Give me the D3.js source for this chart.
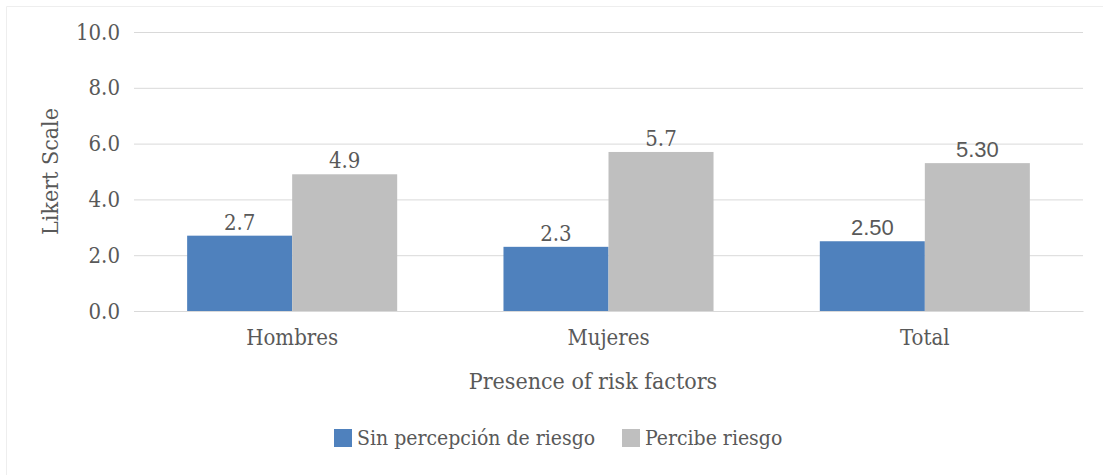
<!DOCTYPE html>
<html><head><meta charset="utf-8">
<script src="https://cdn.jsdelivr.net/npm/d3@7"></script>
<style>body{margin:0;background:#fff}svg{display:block}</style>
</head><body>
<svg id="c" width="1103" height="475"></svg>
<script>
const categories = ["Hombres", "Mujeres", "Total"];
const seriesNames = ["Sin percepción de riesgo", "Percibe riesgo"];
const sinPercepcion = [2.7, 2.3, 2.50];
const percibe = [4.9, 5.7, 5.30];
const sinLabels = ["2.7", "2.3", "2.50"];
const percibeLabels = ["4.9", "5.7", "5.30"];
const yTicks = [0, 2, 4, 6, 8, 10];
const colors = ["#4F81BD", "#BFBFBF"];

const serif = "'DejaVu Serif Condensed','DejaVu Serif',serif";
const sans = "'Liberation Sans','DejaVu Sans',sans-serif";
const textColor = "#595959";

const svg = d3.select("#c");
svg.append("path").attr("d","M6.5,475 V6.5 H1103").attr("fill","none").attr("stroke","#EEEEEE");

const L = 134, R = 1083, T = 32, B = 311;
const x0 = d3.scaleBand().domain(categories).range([L, R]).paddingInner(0.336).paddingOuter(0.168);
const x1 = d3.scaleBand().domain([0,1]).range([0, x0.bandwidth()]);
const y = d3.scaleLinear().domain([0, 10]).range([B, T]);

const yAxis = d3.axisLeft(y).tickValues(yTicks).tickSize(-(R-L)).tickFormat(d3.format(".1f")).tickPadding(14);
const gy = svg.append("g").attr("transform", `translate(${L},0)`).call(yAxis);
gy.select(".domain").remove();
gy.selectAll(".tick line").attr("stroke", "#D9D9D9").attr("stroke-width", 1);
gy.selectAll(".tick text").attr("fill", textColor).style("font-family", serif).style("font-size", "22px");

const data = categories.map((c, i) => ({c, vals: [sinPercepcion[i], percibe[i]], labs: [sinLabels[i], percibeLabels[i]]}));
const g = svg.append("g");
data.forEach(d => {
  d.vals.forEach((v, j) => {
    const bx = x0(d.c) + x1(j);
    g.append("rect").attr("x", bx).attr("y", y(v)).attr("width", x1.bandwidth()).attr("height", B - y(v)).attr("fill", colors[j]);
    const isSans = d.labs[j].length > 3;
    g.append("text").attr("x", bx + x1.bandwidth()/2).attr("y", y(v) - 6)
      .attr("text-anchor","middle").attr("fill", textColor)
      .style("font-family", isSans ? sans : serif).style("font-size", "22px").text(d.labs[j]);
  });
});

const xAxis = d3.axisBottom(x0).tickSize(0).tickPadding(18);
const gx = svg.append("g").attr("transform", `translate(0,${B})`).call(xAxis);
gx.select(".domain").attr("stroke", "#D9D9D9");
gx.selectAll(".tick text").attr("fill", textColor).style("font-family", serif).style("font-size", "22px");

svg.append("text").attr("x", 593).attr("y", 389).attr("text-anchor","middle")
  .attr("fill", textColor).style("font-family", serif).style("font-size", "23px").text("Presence of risk factors");
svg.append("text").attr("transform", `translate(58,${(T+B)/2}) rotate(-90)`).attr("text-anchor","middle")
  .attr("fill", textColor).style("font-family", serif).style("font-size", "23px").text("Likert Scale");

const legX = [334, 622];
seriesNames.forEach((n, j) => {
  svg.append("rect").attr("x", legX[j]).attr("y", 429).attr("width", 18).attr("height", 18).attr("fill", colors[j]);
  svg.append("text").attr("x", legX[j] + 23).attr("y", 445).attr("fill", textColor)
    .style("font-family", serif).style("font-size", "21px").text(n);
});
</script>
</body></html>
